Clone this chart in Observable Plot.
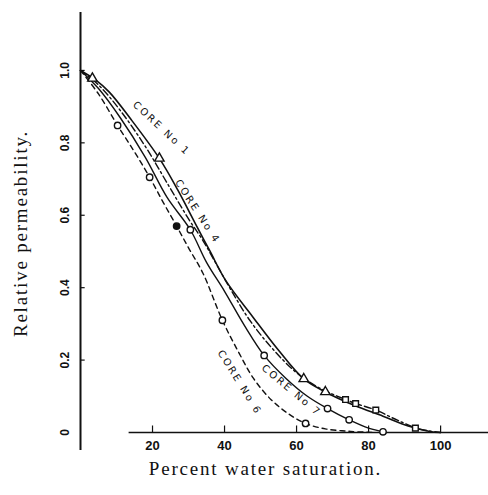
<!DOCTYPE html>
<html>
<head>
<meta charset="utf-8">
<script src="https://cdn.jsdelivr.net/npm/d3@7"></script>
<script src="https://cdn.jsdelivr.net/npm/@observablehq/plot@0.6"></script>
<style>
  html, body { margin: 0; padding: 0; background: #fff; }
  #chart svg { display: block; }
</style>
</head>
<body>
<div id="chart"></div>
<script>
// ---- data ----
const core1X = [0, 4, 8, 14, 21.9, 27, 32, 36, 40.3, 47.8, 55, 62, 68, 76, 84, 91, 97, 100];
const core1Y = [1.0, 0.975, 0.94, 0.865, 0.757, 0.67, 0.575, 0.5, 0.42, 0.32, 0.227, 0.148, 0.112, 0.075, 0.045, 0.018, 0.003, 0];
const core4X = [0, 5, 11, 18, 24, 30, 34, 38, 42, 47, 53, 60, 66, 73.6, 76.4, 82, 88, 94, 100];
const core4Y = [1.0, 0.96, 0.89, 0.79, 0.69, 0.59, 0.53, 0.46, 0.39, 0.31, 0.235, 0.165, 0.125, 0.091, 0.08, 0.062, 0.034, 0.01, 0];
const core7X = [0, 5, 11, 18, 24, 30.5, 35, 40, 45.5, 51, 57, 63, 68.6, 74.6, 80, 85];
const core7Y = [1.0, 0.95, 0.87, 0.76, 0.65, 0.56, 0.47, 0.39, 0.296, 0.213, 0.15, 0.1, 0.066, 0.035, 0.012, 0];
const core6X = [0, 5, 10.3, 15, 19.2, 23, 26.7, 30, 34, 39.4, 44, 48, 53, 58, 62.5, 68, 75, 82];
const core6Y = [1.0, 0.935, 0.848, 0.775, 0.705, 0.635, 0.57, 0.51, 0.44, 0.31, 0.22, 0.15, 0.09, 0.05, 0.025, 0.01, 0.003, 0];

// marker points
const core1MarkX = [3.3, 21.9, 62, 68];
const core1MarkY = [0.978, 0.757, 0.148, 0.112];
const core4MarkX = [73.6, 76.4, 82, 93];
const core4MarkY = [0.091, 0.08, 0.062, 0.012];
const core7MarkX = [30.5, 51, 68.6, 74.6, 84];
const core7MarkY = [0.56, 0.213, 0.066, 0.035, 0.002];
const core6MarkX = [10.3, 19.2, 26.7, 39.4, 62.5];
const core6MarkY = [0.848, 0.705, 0.57, 0.31, 0.025];

const curveLabels = ["CORE No 1", "CORE No 4", "CORE No 7", "CORE No 6"];
const labelX = [22.5, 32.5, 58.6, 44.2];
const labelY = [0.84, 0.61, 0.116, 0.138];
const labelAngle = [43, 57, 40, 58];

const xTicks = [20, 40, 60, 80, 100];
const yTicks = [0, 0.2, 0.4, 0.6, 0.8, 1.0];
const yTickLabels = ["0", "0.2", "0.4", "0.6", "0.8", "1.0"];
const xTitle = "Percent water saturation.";
const yTitle = "Relative permeability.";

// ---- build tables ----
const pts = (xs, ys) => xs.map((x, i) => ({x, y: ys[i]}));
const c1 = pts(core1X, core1Y), c4 = pts(core4X, core4Y), c7 = pts(core7X, core7Y), c6 = pts(core6X, core6Y);
const m1 = pts(core1MarkX, core1MarkY), m4 = pts(core4MarkX, core4MarkY), m7 = pts(core7MarkX, core7MarkY), m6 = pts(core6MarkX, core6MarkY);
const labels = curveLabels.map((t, i) => ({t, x: labelX[i], y: labelY[i], a: labelAngle[i]}));

const ink = "#111";
const lineOpts = {x: "x", y: "y", stroke: ink, strokeWidth: 1.6, curve: "catmull-rom"};

const chart = Plot.plot({
  width: 488,
  height: 495,
  marginLeft: 80,
  marginRight: 0,
  marginTop: 12,
  marginBottom: 45,
  x: {domain: [0, 113.3], axis: null},
  y: {domain: [-0.0497, 1.16], axis: null},
  style: {background: "#fff", overflow: "visible"},
  marks: [
    // axes lines
    Plot.ruleX([0], {y1: -0.0497, y2: 1.16, stroke: ink, strokeWidth: 2}),
    Plot.ruleY([0], {x1: 13.5, x2: 113.3, stroke: ink, strokeWidth: 1.6}),
    Plot.ruleY(yTicks.slice(1), {x1: 0, x2: 1.3, stroke: ink, strokeWidth: 1.2}),
    Plot.ruleX(xTicks, {y1: 0, y2: 0.018, stroke: ink, strokeWidth: 1.2}),
    // tick labels
    Plot.text(yTicks, {x: 0, y: d => d, text: (d, i) => yTickLabels[i], dx: -15, rotate: -90,
      fontFamily: "Liberation Sans", fontWeight: "bold", fontSize: 12, fill: ink}),
    Plot.text(xTicks, {x: d => d, y: 0, text: d => String(d), dy: 13,
      fontFamily: "Liberation Sans", fontWeight: "bold", fontSize: 13, fill: ink}),
    // curves
    Plot.line(c1, {...lineOpts}),
    Plot.line(c4, {...lineOpts, strokeDasharray: "7,3,2,3", strokeWidth: 1.4}),
    Plot.line(c7, {...lineOpts, strokeWidth: 1.4}),
    Plot.line(c6, {...lineOpts, strokeDasharray: "5,4", strokeWidth: 1.4}),
    // markers
    Plot.dot(m1, {x: "x", y: "y", symbol: "triangle", r: 3.5, stroke: ink, fill: "#fff", strokeWidth: 1.4}),
    Plot.dot(m4, {x: "x", y: "y", symbol: "square", r: 3.2, stroke: ink, fill: "#fff", strokeWidth: 1.4}),
    Plot.dot(m7, {x: "x", y: "y", symbol: "circle", r: 3.2, stroke: ink, fill: "#fff", strokeWidth: 1.4}),
    Plot.dot(m6, {x: "x", y: "y", symbol: "circle", r: 3.2, stroke: ink, fill: (d, i) => i === 2 ? ink : "#fff", strokeWidth: 1.4}),
    // curve labels
    Plot.text(labels, {x: "x", y: "y", text: "t", rotate: "a",
      fontFamily: "DejaVu Sans", fontSize: 10, fill: ink}),
    // axis titles
    Plot.text([xTitle], {frameAnchor: "bottom", dx: -19, dy: 24, fontFamily: "Liberation Serif", fontSize: 19, fill: ink}),
    Plot.text([yTitle], {frameAnchor: "left", textAnchor: "middle", dx: -60, dy: 2, rotate: -90,
      fontFamily: "Liberation Serif", fontSize: 19, fill: ink})
  ]
});
// spacing of the letters as in the scan
d3.select(chart).selectAll("text").each(function() {
  const t = this.textContent;
  if (t === xTitle || t === yTitle) this.style.letterSpacing = "1.8px";
  else if (curveLabels.includes(t)) this.style.letterSpacing = "2.2px";
});
document.getElementById("chart").appendChild(chart);
</script>
</body>
</html>
